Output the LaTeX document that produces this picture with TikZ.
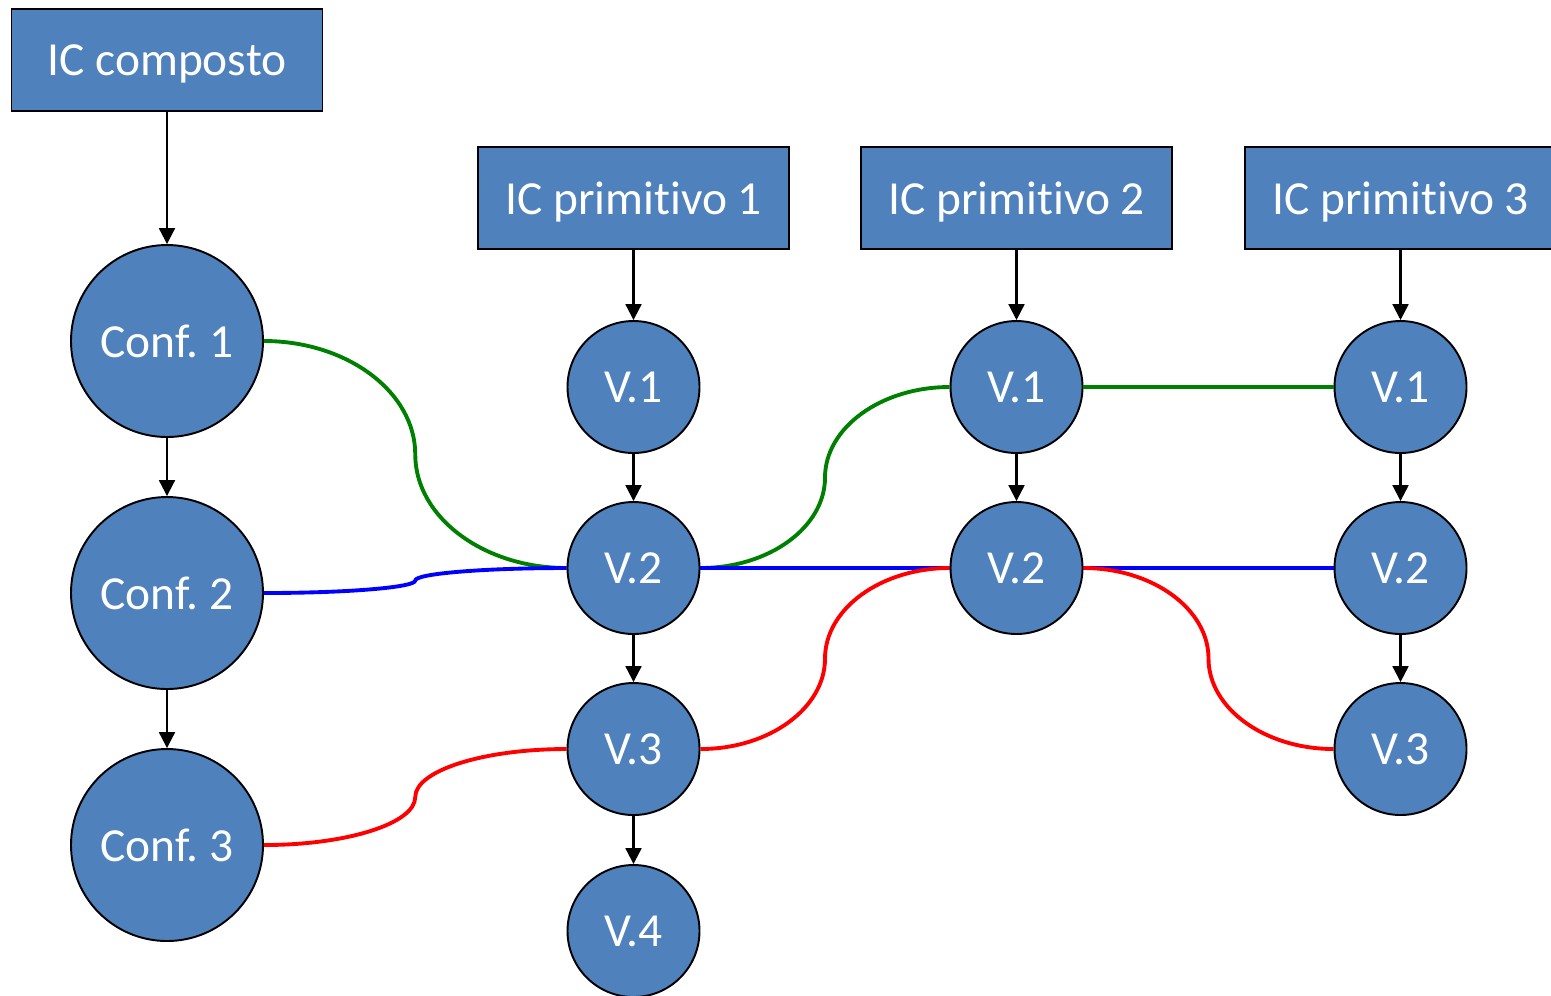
\documentclass[tikz,border=0pt]{standalone}
\usepackage{fontspec}
\setmainfont[Ligatures=NoCommon]{Carlito}
\usetikzlibrary{calc,arrows.meta}
\definecolor{icblue}{HTML}{4F81BD}
\definecolor{lgreen}{HTML}{008000}
% curved link: color, from, to, name of the middle point
\newcommand\bendlink[4]{%
\coordinate (#4) at ($(#2)!.5!(#3)$);
\draw[link,#1] (#2) .. controls ($(#2)!.55!(#4|-#2)$) and ($(#4)!.55!(#4|-#2)$) .. (#4)
  .. controls ($(#4)!.55!(#4|-#3)$) and ($(#3)!.55!(#4|-#3)$) .. (#3);}

\begin{document}
\frenchspacing
\begin{tikzpicture}
\tikzstyle{box}=[draw,fill=icblue,rectangle,line width=.55pt,text=white,font=\fontsize{13.5}{16}\selectfont,minimum width=3.11cm,minimum height=1.02cm,text depth=0pt]
\tikzstyle{conf}=[draw,fill=icblue,circle,line width=.55pt,text=white,font=\fontsize{13.5}{16}\selectfont,minimum size=1.92cm,inner sep=0pt]
\tikzstyle{ver}=[draw,fill=icblue,circle,line width=.55pt,text=white,font=\fontsize{13.5}{16}\selectfont,minimum size=1.32cm,inner sep=0pt]
\tikzstyle{arr}=[-{Triangle[length=4.5pt,width=4.5pt]},line width=.6pt]
\tikzstyle{link}=[line width=1.1pt]

\useasboundingbox (0,0) rectangle (15.51,-9.95);

% composed IC and its configurations
\node[box] (composto) at (1.67,-0.60) {IC composto};
\node[conf] (c1) at (1.67,-3.41) {Conf. 1};
\node[conf] (c2) at (1.67,-5.93) {Conf. 2};
\node[conf] (c3) at (1.67,-8.45) {Conf. 3};
\draw[arr] (composto.south) -- (c1.north);
\draw[arr] (c1.south) -- (c2.north);
\draw[arr] (c2.south) -- (c3.north);

% primitive IC 1
\node[box] (p1) at (6.335,-1.98) {IC primitivo 1};
\node[ver] (v11) at (6.335,-3.87) {V.1};
\node[ver] (v12) at (6.335,-5.68) {V.2};
\node[ver] (v13) at (6.335,-7.49) {V.3};
\node[ver] (v14) at (6.335,-9.31) {V.4};
\draw[arr] (p1.south) -- (v11.north);
\draw[arr] (v11.south) -- (v12.north);
\draw[arr] (v12.south) -- (v13.north);
\draw[arr] (v13.south) -- (v14.north);

% primitive IC 2
\node[box] (p2) at (10.165,-1.98) {IC primitivo 2};
\node[ver] (v21) at (10.165,-3.87) {V.1};
\node[ver] (v22) at (10.165,-5.68) {V.2};
\draw[arr] (p2.south) -- (v21.north);
\draw[arr] (v21.south) -- (v22.north);

% primitive IC 3
\node[box] (p3) at (14.005,-1.98) {IC primitivo 3};
\node[ver] (v31) at (14.005,-3.87) {V.1};
\node[ver] (v32) at (14.005,-5.68) {V.2};
\node[ver] (v33) at (14.005,-7.49) {V.3};
\draw[arr] (p3.south) -- (v31.north);
\draw[arr] (v31.south) -- (v32.north);
\draw[arr] (v32.south) -- (v33.north);

% configuration 1 (green)
\bendlink{lgreen}{c1.east}{v12.west}{g1}
\bendlink{lgreen}{v12.east}{v21.west}{g2}
\draw[link,lgreen] (v21.east) -- (v31.west);

% configuration 2 (blue)
\bendlink{blue}{c2.east}{v12.west}{b1}
\draw[link,blue] (v12.east) -- (v22.west);
\draw[link,blue] (v22.east) -- (v32.west);

% configuration 3 (red)
\bendlink{red}{c3.east}{v13.west}{r1}
\bendlink{red}{v13.east}{v22.west}{r2}
\bendlink{red}{v22.east}{v33.west}{r3}

\end{tikzpicture}
\end{document}
